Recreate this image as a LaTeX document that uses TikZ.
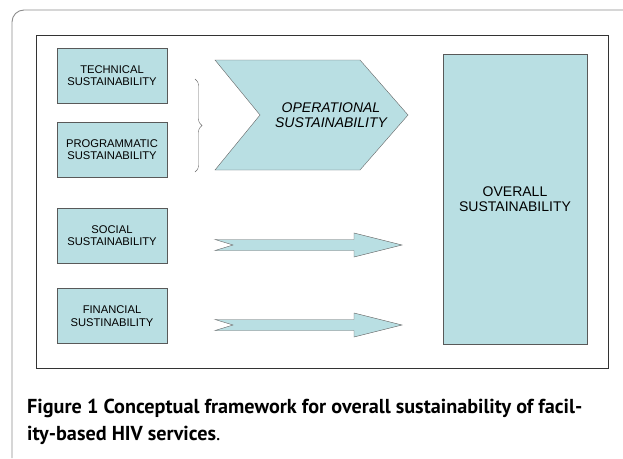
\documentclass[tikz,border=0pt]{standalone}
\usepackage{fontspec}
\setmainfont{Liberation Sans}
\newfontfamily\capfont{PT Sans}
\usetikzlibrary{decorations.pathreplacing}
\definecolor{boxblue}{HTML}{B9DFE3}
\definecolor{framegray}{HTML}{8C8C8C}

\tikzset{
  sustbox/.style={draw=black!65, fill=boxblue, minimum width=110pt, minimum height=55pt,
    inner sep=0pt, align=center, font=\fontsize{11.2}{12.5}\selectfont},
  bigtext/.style={align=center, font=\fontsize{14}{15.5}\selectfont},
  blockarrow/.style={draw=black!60, fill=boxblue, line join=miter},
  captext/.style={anchor=base west, inner sep=0pt, font=\capfont\bfseries\fontsize{20.2}{24}\selectfont},
}

\begin{document}
\begin{tikzpicture}[x=1pt, y=-1pt]
    \useasboundingbox (0,0) rectangle (623,458);

    % Page frame
    \draw[framegray, line width=0.9pt, rounded corners=12pt] (623,10) -- (12,10) -- (12,458);
    \draw[black!80, line width=0.8pt] (36,35) rectangle (608,368);

    % Dimension boxes
    \node[sustbox] (technical) at (112,75.5) {TECHNICAL\\SUSTAINABILITY};
    \node[sustbox] (programmatic) at (112,149.5) {PROGRAMMATIC\\SUSTAINABILITY};
    \node[sustbox] (social) at (112,235.5) {SOCIAL\\SUSTAINABILITY};
    \node[sustbox] (financial) at (112,316) {FINANCIAL\\SUSTINABILITY};

    % Overall box
    \node[sustbox, minimum width=144pt, minimum height=290pt, bigtext] (overall) at (515,199) {OVERALL\\SUSTAINABILITY};

    % Brace
    \draw[black!60, decorate, decoration={brace, amplitude=7pt}] (195,79) -- (195,172);

    % Chevron
    \draw[blockarrow] (215,60) -- (360,60) -- (408,115) -- (360,170) -- (215,170) -- (260,115) -- cycle;
    \node[bigtext, font=\fontsize{14}{15.5}\selectfont\itshape] (operational) at (331,115) {OPERATIONAL\\SUSTAINABILITY};

    % Block arrows
    \foreach \yc in {245,325}
        \draw[blockarrow] (215,\yc-5.5) -- (354,\yc-5.5) -- (354,\yc-12) -- (402,\yc)
            -- (354,\yc+12) -- (354,\yc+5.5) -- (215,\yc+5.5) -- (233,\yc) -- cycle;

    % Caption
    \node[captext] (caption1) at (27,413) {Figure 1 Conceptual framework for overall sustainability of facil-};
    \node[captext] (caption2) at (27,440) {ity-based HIV services\mdseries.};
\end{tikzpicture}
\end{document}
